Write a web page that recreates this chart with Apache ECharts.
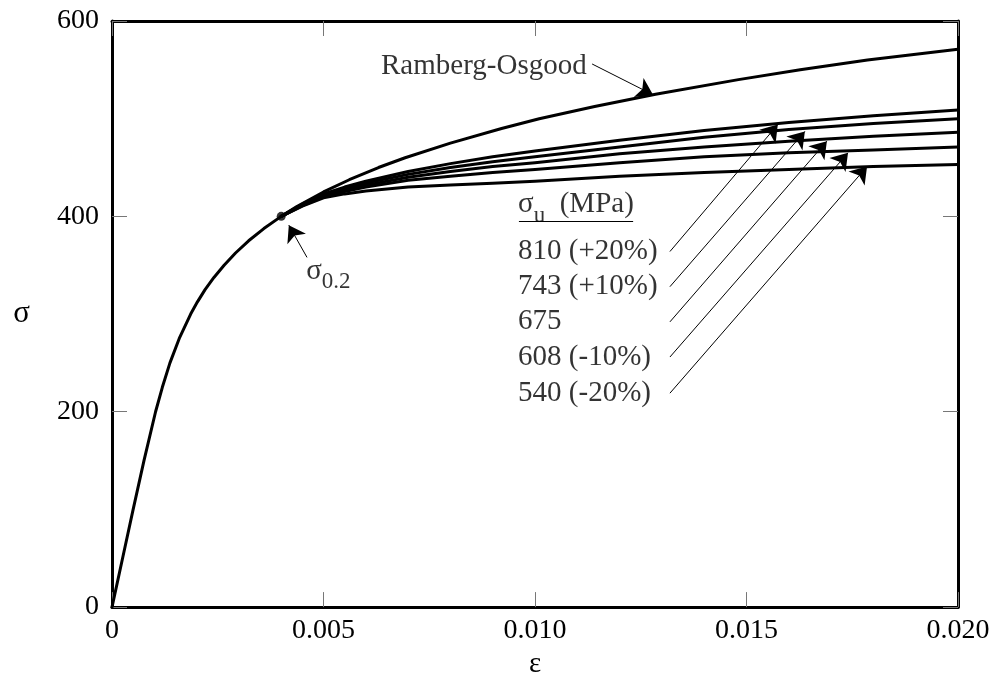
<!DOCTYPE html>
<html>
<head>
<meta charset="utf-8">
<script src="https://cdn.jsdelivr.net/npm/echarts@6/dist/echarts.min.js"></script>
<style>html,body{margin:0;padding:0;background:#fff}#c{width:996px;height:684px}</style>
</head>
<body>
<div id="c"></div>
<script>
// ---- data ----
const xTickLabels = ['0', '0.005', '0.010', '0.015', '0.020'];
const yTickLabels = ['0', '200', '400', '600'];

// Ramberg-Osgood curve [strain, stress]
const roStrain = [0, 0.00025, 0.0005, 0.000756, 0.00103, 0.00119, 0.00137, 0.00159, 0.00186, 0.00202, 0.0022, 0.00241, 0.00265, 0.00292, 0.00323, 0.00359, 0.004, 0.00437, 0.005, 0.00561, 0.0063, 0.00693, 0.008, 0.00921, 0.0101, 0.01141, 0.01285, 0.01481, 0.01627, 0.01786, 0.020];
const roStress = [0, 50, 100, 150, 200, 225, 250, 275, 300, 312.5, 325, 337.5, 350, 362.5, 375, 387.5, 400, 410, 425, 437.5, 450, 460, 475, 490, 500, 512.5, 525, 540, 550, 560, 571];

// curves for different ultimate strengths
const curveStrain = [0.004, 0.0045, 0.005, 0.0055, 0.006, 0.007, 0.008, 0.009, 0.010, 0.012, 0.014, 0.016, 0.018, 0.020];
const s810 = [400, 412.5, 423, 430, 436, 446, 454, 461, 467, 478, 488, 496, 503, 509];
const s743 = [400, 412, 422, 428.5, 434, 443, 450, 456, 461, 471, 481, 489, 495, 500];
const s675 = [400, 411.5, 421, 427, 432, 440, 446, 451, 455, 464, 471, 477, 482, 486];
const s608 = [400, 411, 420, 425.5, 430, 437, 441, 445, 448, 455, 461, 465, 468, 471];
const s540 = [400, 410.5, 419, 423, 426, 430, 432, 434, 436, 441, 445, 448, 451, 453];

const yieldPoint = [0.004, 400];
const legendLabels = ['810 (+20%)', '743 (+10%)', '675', '608 (-10%)', '540 (-20%)'];
const legendStress = [364, 328, 292, 256, 219];
const arrowTips = [[0.01574, 494], [0.01638, 487], [0.0169, 477], [0.0174, 465], [0.01785, 451]];

// ---- build ----
const FONT = 'Liberation Serif';
const pair = (xs, ys) => xs.map((x, i) => [x, ys[i]]);
const curveStyle = { color: '#000', width: 3, join: 'round', cap: 'round' };

function curve(name, xs, ys) {
  return {
    name, type: 'line', data: pair(xs, ys), showSymbol: false, symbol: 'none',
    smooth: false, lineStyle: curveStyle, itemStyle: { color: '#000' },
    silent: true, z: 3
  };
}

const labelX = 0.00960;
const tailX = 0.01319;
const textData = [
  { value: [0.00636, 554], name: 'Ramberg-Osgood' },
  { value: [labelX, 412], name: '{a|σ}{sub|u}{a|  (MPa)}' },
  { value: [0.00459, 344], name: '{a|σ}{sub|0.2}' }
].concat(legendLabels.map((t, i) => ({ value: [labelX, legendStress[i]], name: t })));

const arrowLines = [
  [{ coord: [0.01135, 556] }, { coord: [0.01279, 524.5] }],
  [{ coord: [0.00461, 358] }, { coord: [0.00418, 391] }]
].concat(arrowTips.map((t, i) => [{ coord: [tailX, legendStress[i]] }, { coord: t }]));
arrowLines.push([{ coord: [0.00962, 395], symbol: 'none' }, { coord: [0.01232, 395], symbol: 'none' }]);

const richText = {
  a: { fontFamily: FONT, fontSize: 29, color: '#000' },
  sub: { fontFamily: FONT, fontSize: 23, color: '#000', padding: [22, 0, 0, 0] }
};

const axisCommon = {
  axisLine: { show: true, onZero: false, lineStyle: { color: '#000', width: 3 } },
  axisTick: { show: true, inside: true, length: 15, lineStyle: { color: '#777', width: 1 } },
  splitLine: { show: false }
};

const option = {
  animation: false,
  backgroundColor: '#fff',
  grid: { left: 112, right: 38, top: 21, bottom: 75, containLabel: false },
  xAxis: [
    Object.assign({
      type: 'value', min: 0, max: 0.02, interval: 0.005, position: 'bottom',
      name: 'ε', nameLocation: 'middle', nameGap: 42,
      nameTextStyle: { fontFamily: FONT, fontSize: 29, color: '#000' },
      axisLabel: { fontFamily: FONT, fontSize: 28, color: '#000', margin: 10,
        formatter: v => xTickLabels[Math.round(v / 0.005)] }
    }, axisCommon),
    Object.assign({
      type: 'value', min: 0, max: 0.02, interval: 0.005, position: 'top',
      axisLabel: { show: false }
    }, axisCommon)
  ],
  yAxis: [
    Object.assign({
      type: 'value', min: 0, max: 600, interval: 200, position: 'left',
      name: 'σ', nameLocation: 'middle', nameGap: 82, nameRotate: 0,
      nameTextStyle: { fontFamily: FONT, fontSize: 31, color: '#000' },
      axisLabel: { fontFamily: FONT, fontSize: 28, color: '#000', margin: 13,
        formatter: v => yTickLabels[Math.round(v / 200)] }
    }, axisCommon),
    Object.assign({
      type: 'value', min: 0, max: 600, interval: 200, position: 'right',
      axisLabel: { show: false }
    }, axisCommon)
  ],
  series: [
    curve('Ramberg-Osgood', roStrain, roStress),
    curve('810', curveStrain, s810),
    curve('743', curveStrain, s743),
    curve('675', curveStrain, s675),
    curve('608', curveStrain, s608),
    curve('540', curveStrain, s540),
    {
      type: 'scatter', data: [yieldPoint], symbol: 'circle', symbolSize: 9,
      itemStyle: { color: '#000' }, silent: true, z: 5
    },
    {
      type: 'scatter', data: textData, symbolSize: 0, silent: true, z: 6,
      label: {
        show: true, position: [0, 0], align: 'left', verticalAlign: 'middle',
        fontFamily: FONT, fontSize: 29, color: '#000',
        formatter: p => p.name, rich: richText
      },
      markLine: {
        silent: true, symbol: ['none', 'arrow'], symbolSize: 16, precision: 6,
        label: { show: false },
        lineStyle: { color: '#000', width: 1, type: 'solid' },
        emphasis: { disabled: true },
        data: arrowLines
      }
    }
  ]
};

const chart = echarts.init(document.getElementById('c'), null, { renderer: 'canvas' });
chart.setOption(option);
</script>
</body>
</html>
